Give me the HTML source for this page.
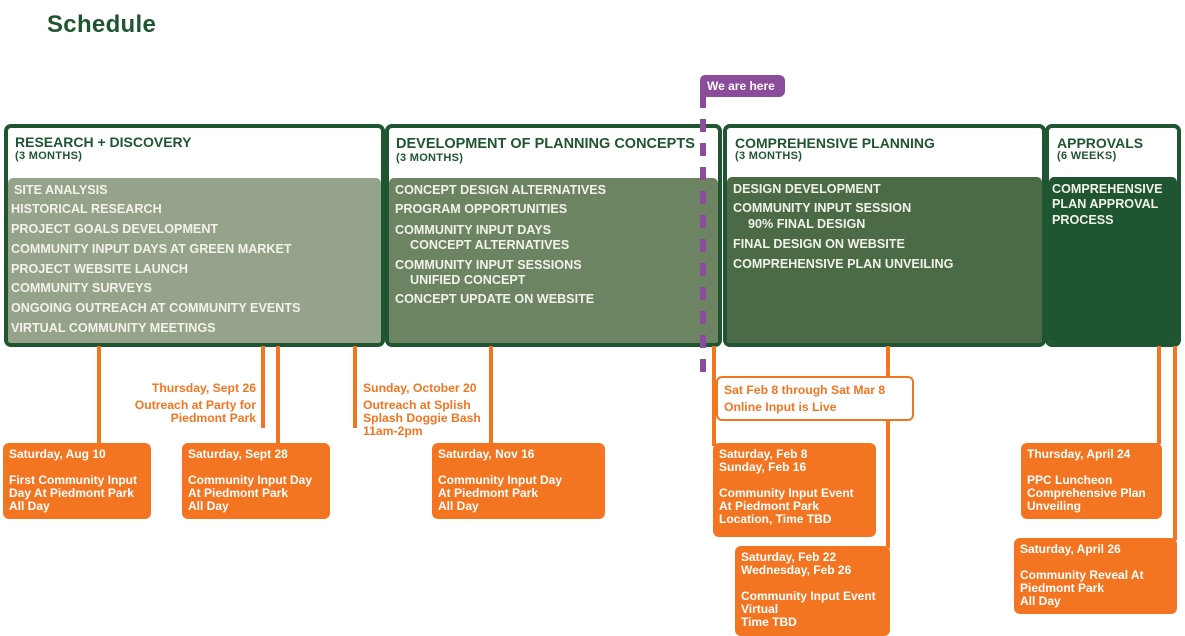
<!DOCTYPE html>
<html><head><meta charset="utf-8"><style>
*{margin:0;padding:0;box-sizing:border-box}
body{width:1185px;height:630px;background:#fff;position:relative;overflow:hidden;font-family:"Liberation Sans",sans-serif;font-weight:bold}
.a{position:absolute}
.box{position:absolute;border:4px solid #1f5530;border-radius:7px;background:#fff;overflow:hidden}
.fill{position:absolute;left:0;right:0;bottom:0;border-radius:5px 5px 0 0}
.h1{position:absolute;color:#1f5530;font-size:14px;white-space:nowrap}
.h2{position:absolute;color:#1f5530;font-size:11px;letter-spacing:0.3px;white-space:nowrap}
.it{position:absolute;color:#f2f2ea;font-size:12.6px;line-height:14px;white-space:nowrap}
.ln{position:absolute;background:#f47521;width:4px}
.ob{position:absolute;background:#f47521;border-radius:6px;color:#fff;font-size:12px;line-height:13px;padding:5px 6px;white-space:nowrap}
.ot{position:absolute;color:#f47521;font-size:12.2px;line-height:13px;white-space:nowrap}
</style></head><body>
<div class="a" style="left:47px;top:11px;font-size:24px;letter-spacing:0.3px;color:#1f5530">Schedule</div>

<div class="box" style="left:4px;top:124px;width:381px;height:223px">
 <div class="h1" style="left:7px;top:6px">RESEARCH + DISCOVERY</div>
 <div class="h2" style="left:7px;top:22px">(3 MONTHS)</div>
 <div class="fill" style="top:50px;background:#96a38b"></div>
</div>
<div class="box" style="left:385px;top:124px;width:337px;height:223px">
 <div class="h1" style="left:7px;top:8px;font-size:14.5px">DEVELOPMENT OF PLANNING CONCEPTS</div>
 <div class="h2" style="left:7px;top:24px">(3 MONTHS)</div>
 <div class="fill" style="top:50px;background:#6c8462"></div>
</div>
<div class="box" style="left:723px;top:124px;width:323px;height:223px">
 <div class="h1" style="left:8px;top:7px">COMPREHENSIVE PLANNING</div>
 <div class="h2" style="left:8px;top:22px">(3 MONTHS)</div>
 <div class="fill" style="top:49px;background:#4a6b45"></div>
</div>
<div class="box" style="left:1045px;top:124px;width:136px;height:223px">
 <div class="h1" style="left:8px;top:7px">APPROVALS</div>
 <div class="h2" style="left:8px;top:22px">(6 WEEKS)</div>
 <div class="fill" style="top:49px;background:#1f5530"></div>
</div>

<div class="it" style="left:14px;top:183px">SITE ANALYSIS</div>
<div class="it" style="left:11px;top:202px">HISTORICAL RESEARCH</div>
<div class="it" style="left:11px;top:222px">PROJECT GOALS DEVELOPMENT</div>
<div class="it" style="left:11px;top:242px">COMMUNITY INPUT DAYS AT GREEN MARKET</div>
<div class="it" style="left:11px;top:262px">PROJECT WEBSITE LAUNCH</div>
<div class="it" style="left:11px;top:281px">COMMUNITY SURVEYS</div>
<div class="it" style="left:11px;top:301px">ONGOING OUTREACH AT COMMUNITY EVENTS</div>
<div class="it" style="left:11px;top:321px">VIRTUAL COMMUNITY MEETINGS</div>

<div class="it" style="left:395px;top:183px">CONCEPT DESIGN ALTERNATIVES</div>
<div class="it" style="left:395px;top:202px">PROGRAM OPPORTUNITIES</div>
<div class="it" style="left:395px;top:223px">COMMUNITY INPUT DAYS</div>
<div class="it" style="left:410px;top:238px">CONCEPT ALTERNATIVES</div>
<div class="it" style="left:395px;top:258px">COMMUNITY INPUT SESSIONS</div>
<div class="it" style="left:410px;top:273px">UNIFIED CONCEPT</div>
<div class="it" style="left:395px;top:292px">CONCEPT UPDATE ON WEBSITE</div>

<div class="it" style="left:733px;top:182px">DESIGN DEVELOPMENT</div>
<div class="it" style="left:733px;top:201px">COMMUNITY INPUT SESSION</div>
<div class="it" style="left:748px;top:217px">90% FINAL DESIGN</div>
<div class="it" style="left:733px;top:237px">FINAL DESIGN ON WEBSITE</div>
<div class="it" style="left:733px;top:257px">COMPREHENSIVE PLAN UNVEILING</div>

<div class="it" style="left:1052px;top:182px">COMPREHENSIVE</div>
<div class="it" style="left:1052px;top:197px">PLAN APPROVAL</div>
<div class="it" style="left:1052px;top:213px">PROCESS</div>

<div class="a" style="left:700px;top:75px;width:85px;height:22px;background:#8b4c9c;border-radius:5px 6px 6px 0;color:#fff;font-size:12px;padding:4px 0 0 7px">We are here</div>
<div class="a" style="left:700px;top:95px;width:6px;height:281px;background:repeating-linear-gradient(to bottom,#8b4c9c 0 13px,transparent 13px 24px)"></div>

<div class="ln" style="left:97px;top:346px;height:98px"></div>
<div class="ln" style="left:261px;top:346px;height:82px"></div>
<div class="ln" style="left:276px;top:346px;height:98px"></div>
<div class="ln" style="left:353px;top:346px;height:82px"></div>
<div class="ln" style="left:489px;top:346px;height:98px"></div>
<div class="ln" style="left:712px;top:346px;height:100px"></div>
<div class="ln" style="left:886px;top:346px;height:202px"></div>
<div class="ln" style="left:1157px;top:346px;height:98px"></div>
<div class="ln" style="left:1173px;top:346px;height:194px"></div>

<div class="ot" style="right:929px;top:382px;text-align:right">Thursday, Sept 26</div>
<div class="ot" style="right:929px;top:399px;text-align:right">Outreach at Party for<br>Piedmont Park</div>
<div class="ot" style="left:363px;top:382px">Sunday, October 20</div>
<div class="ot" style="left:363px;top:399px">Outreach at Splish<br>Splash Doggie Bash<br>11am-2pm</div>

<div class="a" style="left:716px;top:376px;width:198px;height:45px;border:2px solid #f47521;border-radius:6px;background:#fff;color:#f47521;font-size:12.2px;line-height:17px;padding:4px 0 0 6px">Sat Feb 8 through Sat Mar 8<br>Online Input is Live</div>

<div class="ob" style="left:3px;top:443px;width:148px;height:76px">Saturday, Aug 10<br><br>First Community Input<br>Day At Piedmont Park<br>All Day</div>
<div class="ob" style="left:182px;top:443px;width:148px;height:76px">Saturday, Sept 28<br><br>Community Input Day<br>At Piedmont Park<br>All Day</div>
<div class="ob" style="left:432px;top:443px;width:173px;height:76px">Saturday, Nov 16<br><br>Community Input Day<br>At Piedmont Park<br>All Day</div>
<div class="ob" style="left:713px;top:443px;width:163px;height:94px">Saturday, Feb 8<br>Sunday, Feb 16<br><br>Community Input Event<br>At Piedmont Park<br>Location, Time TBD</div>
<div class="ob" style="left:735px;top:546px;width:155px;height:90px">Saturday, Feb 22<br>Wednesday, Feb 26<br><br>Community Input Event<br>Virtual<br>Time TBD</div>
<div class="ob" style="left:1021px;top:443px;width:141px;height:76px">Thursday, April 24<br><br>PPC Luncheon<br>Comprehensive Plan<br>Unveiling</div>
<div class="ob" style="left:1014px;top:538px;width:163px;height:76px">Saturday, April 26<br><br>Community Reveal At<br>Piedmont Park<br>All Day</div>
</body></html>
